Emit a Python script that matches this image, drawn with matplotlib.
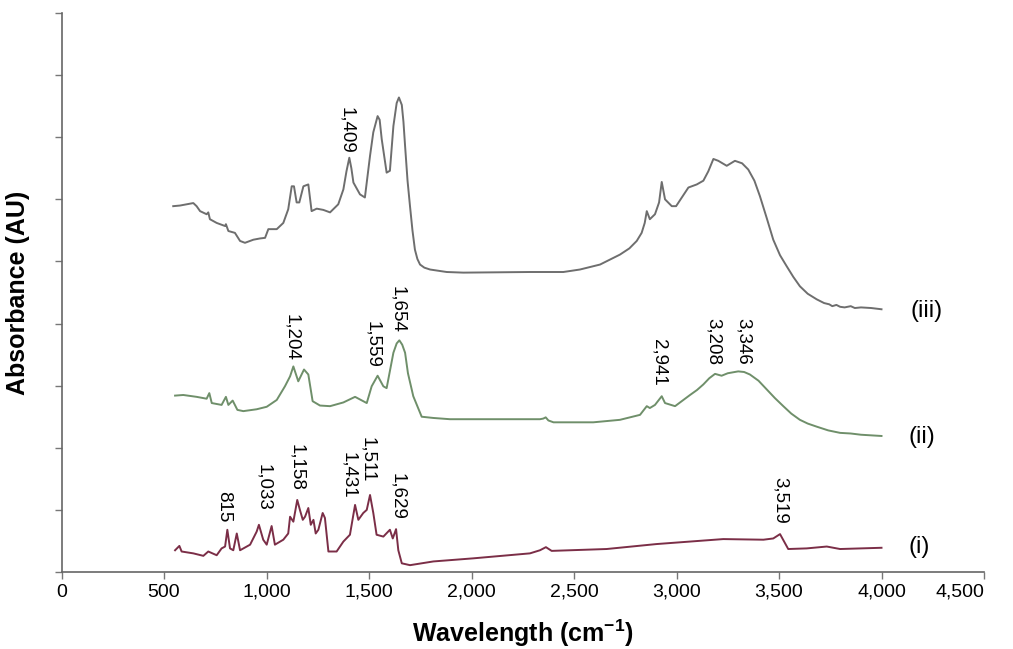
import matplotlib
matplotlib.use("Agg")
import matplotlib.pyplot as plt

plt.rcParams['font.family'] = ['Liberation Sans', 'DejaVu Sans']

# ---- data: (wavenumber, absorbance in offset arbitrary units) ----
spectrum_iii = [
    (545, 5.89), (578, 5.90), (643, 5.94), (659, 5.89), (676, 5.81), (708, 5.76), (716, 5.79),
    (724, 5.68), (757, 5.62), (798, 5.57), (802, 5.60), (814, 5.49), (846, 5.46), (871, 5.33),
    (895, 5.30), (936, 5.35), (968, 5.37), (993, 5.38), (1009, 5.52), (1050, 5.52), (1082, 5.62),
    (1106, 5.84), (1123, 6.21), (1134, 6.21), (1147, 5.95), (1160, 5.95), (1180, 6.21), (1204, 6.24),
    (1220, 5.81), (1245, 5.85), (1277, 5.83), (1310, 5.79), (1350, 5.92), (1375, 6.16), (1390, 6.45),
    (1404, 6.67), (1414, 6.50), (1424, 6.27), (1456, 6.08), (1480, 6.03), (1505, 6.70), (1521, 7.08),
    (1542, 7.34), (1552, 7.28), (1562, 6.97), (1586, 6.43), (1602, 6.46), (1619, 7.18), (1635, 7.55),
    (1646, 7.64), (1660, 7.52), (1668, 7.25), (1676, 6.86), (1688, 6.30), (1700, 5.89), (1712, 5.50),
    (1724, 5.19), (1736, 5.04), (1749, 4.95), (1770, 4.90), (1798, 4.87), (1879, 4.83), (1960, 4.82),
    (2285, 4.83), (2448, 4.83), (2529, 4.87), (2627, 4.95), (2724, 5.11), (2770, 5.21), (2806, 5.33),
    (2830, 5.46), (2845, 5.62), (2855, 5.81), (2870, 5.68), (2895, 5.76), (2915, 5.95), (2928, 6.28),
    (2944, 6.00), (2977, 5.89), (2998, 5.89), (3030, 6.05), (3058, 6.19), (3099, 6.24), (3131, 6.30),
    (3155, 6.45), (3180, 6.65), (3204, 6.62), (3245, 6.54), (3285, 6.62), (3320, 6.58), (3350, 6.48),
    (3380, 6.30), (3407, 6.05), (3440, 5.70), (3472, 5.35), (3505, 5.10), (3538, 4.92), (3570, 4.75),
    (3602, 4.60), (3640, 4.48), (3684, 4.39), (3720, 4.33), (3745, 4.31), (3760, 4.28), (3780, 4.30),
    (3798, 4.27), (3820, 4.26), (3850, 4.28), (3870, 4.25), (3900, 4.26), (3950, 4.25), (4000, 4.23),
]

spectrum_ii = [
    (554, 2.84), (594, 2.85), (659, 2.82), (708, 2.79), (721, 2.88), (733, 2.72), (781, 2.69),
    (802, 2.82), (814, 2.69), (835, 2.76), (858, 2.61), (887, 2.59), (952, 2.62), (1001, 2.66),
    (1050, 2.77), (1090, 2.99), (1115, 3.15), (1131, 3.31), (1155, 3.07), (1183, 3.26), (1204, 3.18),
    (1225, 2.75), (1261, 2.68), (1310, 2.67), (1375, 2.73), (1432, 2.82), (1472, 2.75), (1489, 2.72),
    (1513, 2.99), (1542, 3.16), (1570, 2.99), (1586, 2.96), (1619, 3.53), (1635, 3.68), (1648, 3.73),
    (1662, 3.66), (1676, 3.53), (1690, 3.20), (1716, 2.83), (1757, 2.50), (1814, 2.48), (1895, 2.46),
    (2334, 2.46), (2350, 2.47), (2362, 2.49), (2375, 2.44), (2400, 2.41), (2594, 2.41), (2724, 2.45),
    (2822, 2.53), (2855, 2.67), (2870, 2.64), (2895, 2.69), (2928, 2.83), (2944, 2.72), (2993, 2.67),
    (3066, 2.85), (3100, 2.93), (3131, 3.02), (3160, 3.12), (3188, 3.19), (3220, 3.16), (3250, 3.20),
    (3301, 3.23), (3330, 3.22), (3358, 3.18), (3400, 3.08), (3440, 2.94), (3480, 2.80), (3521, 2.67),
    (3560, 2.55), (3602, 2.45), (3640, 2.39), (3684, 2.34), (3740, 2.28), (3798, 2.24), (3850, 2.23),
    (3900, 2.21), (3950, 2.20), (4000, 2.19),
]

spectrum_i = [
    (554, 0.35), (575, 0.42), (586, 0.33), (643, 0.30), (692, 0.26), (716, 0.33), (757, 0.27),
    (781, 0.38), (798, 0.41), (809, 0.68), (822, 0.38), (838, 0.35), (855, 0.62), (871, 0.35),
    (920, 0.44), (952, 0.65), (963, 0.76), (984, 0.52), (1001, 0.44), (1025, 0.74), (1041, 0.44),
    (1082, 0.52), (1106, 0.62), (1115, 0.89), (1131, 0.81), (1150, 1.16), (1163, 1.00), (1177, 0.84),
    (1188, 0.89), (1204, 1.03), (1216, 0.76), (1229, 0.84), (1240, 0.62), (1253, 0.68), (1274, 0.95),
    (1285, 0.87), (1302, 0.33), (1342, 0.33), (1375, 0.49), (1407, 0.60), (1432, 1.08), (1448, 0.84),
    (1472, 0.95), (1489, 1.00), (1505, 1.24), (1521, 0.95), (1537, 0.60), (1570, 0.57), (1602, 0.68),
    (1616, 0.54), (1632, 0.69), (1643, 0.35), (1660, 0.14), (1700, 0.11), (1814, 0.17), (2009, 0.22),
    (2285, 0.30), (2334, 0.35), (2363, 0.40), (2391, 0.34), (2659, 0.37), (2903, 0.45), (3228, 0.53),
    (3424, 0.52), (3472, 0.54), (3505, 0.61), (3545, 0.37), (3635, 0.38), (3733, 0.41), (3798, 0.37),
    (4000, 0.39),
]

x_iii, y_iii = zip(*spectrum_iii)
x_ii, y_ii = zip(*spectrum_ii)
x_i, y_i = zip(*spectrum_i)

# peak labels: (text, x, y)
peak_labels = [
    ("1,409", 1393, 7.11),
    ("1,204", 1124, 3.77), ("1,559", 1520, 3.66), ("1,654", 1641, 4.22),
    ("2,941", 2915, 3.37), ("3,208", 3179, 3.71), ("3,346", 3324, 3.71),
    ("815", 793, 1.05), ("1,033", 988, 1.37), ("1,158", 1149, 1.68),
    ("1,431", 1403, 1.56), ("1,511", 1495, 1.81), ("1,629", 1638, 1.21),
    ("3,519", 3505, 1.16),
]
series_labels = [("(iii)", 4140, 4.21), ("(ii)", 4130, 2.18), ("(i)", 4130, 0.40)]

xticks = [0, 500, 1000, 1500, 2000, 2500, 3000, 3500, 4000, 4500]
xticklabels = ["0", "500", "1,000", "1,500", "2,000", "2,500", "3,000", "3,500", "4,000", "4,500"]

fig = plt.figure(figsize=(10.13, 6.49), dpi=100)
ax = fig.add_axes([61.5 / 1013, (649 - 572) / 649, (984 - 61.5) / 1013, (572 - 13) / 649])

ax.plot(x_iii, y_iii, color="#6e6e6e", lw=1.4)
ax.plot(x_ii, y_ii, color="#6f8f6a", lw=1.4)
ax.plot(x_i, y_i, color="#7b2e47", lw=1.4)

for t, x, y in peak_labels:
    ax.text(x, y, t, rotation=-90, ha="center", va="center", fontsize=13.5, color="black")
for t, x, y in series_labels:
    ax.text(x, y, t, ha="left", va="center", fontsize=17, color="black")

ax.set_xlim(0, 4500)
ax.set_ylim(0, 9)
ax.set_xticks(xticks)
ax.set_xticklabels(xticklabels, fontsize=14)
lbls = ax.get_xticklabels()
lbls[-1].set_ha("right")
ax.set_yticks(range(0, 10))
ax.set_yticklabels([])
for s in ["top", "right"]:
    ax.spines[s].set_visible(False)
for s in ["left", "bottom"]:
    ax.spines[s].set_color("#666666")
    ax.spines[s].set_linewidth(1.2)
ax.tick_params(axis="both", direction="out", length=5, color="#777777", width=1)

ax.set_xlabel("Wavelength (cm$^{\\mathregular{-1}}$)", fontsize=18, fontweight="bold", labelpad=12)
ax.set_ylabel("Absorbance (AU)", fontsize=18, fontweight="bold", labelpad=14)

fig.savefig("out.png", dpi=100)
